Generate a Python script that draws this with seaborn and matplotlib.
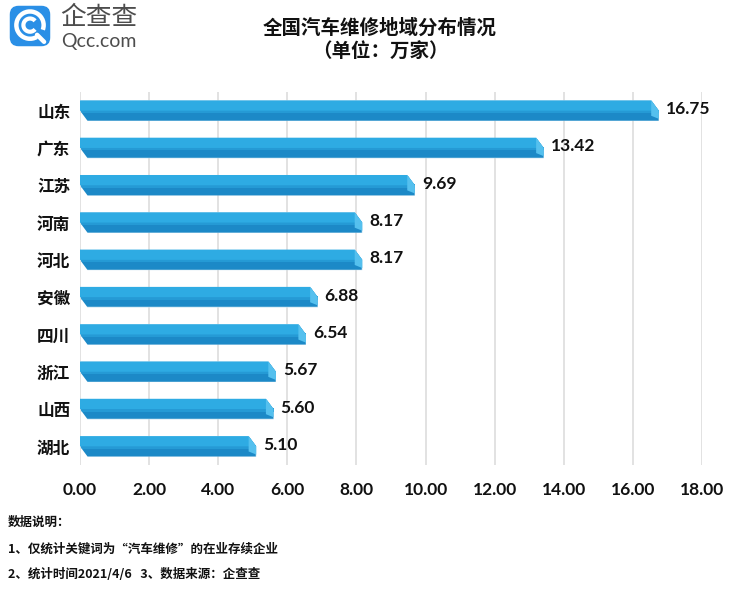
import pandas as pd
import matplotlib
matplotlib.use("Agg")
import matplotlib.pyplot as plt
import seaborn as sns
from matplotlib.patches import Polygon, FancyBboxPatch, Arc

provinces = ["山东", "广东", "江苏", "河南", "河北", "安徽", "四川", "浙江", "山西", "湖北"]
counts = [16.75, 13.42, 9.69, 8.17, 8.17, 6.88, 6.54, 5.67, 5.60, 5.10]
x_ticks = [0, 2, 4, 6, 8, 10, 12, 14, 16, 18]

title = "全国汽车维修地域分布情况"
subtitle = "（单位：万家）"
note_head = "数据说明："
note_1 = "1、仅统计关键词为“汽车维修”的在业存续企业"
note_2 = "2、统计时间2021/4/6   3、数据来源：企查查"
logo_cn = "企查查"
logo_en = "Qcc.com"

LIGHT = "#2EABE3"
MID = "#259AD5"
DARK = "#1C89C7"
CAP = "#55C0EE"
CJK = ["Noto Sans CJK SC", "DejaVu Sans"]
NUM = ["Lato", "DejaVu Sans"]


def draw_bars(ax, df):
    sns.barplot(data=df, y="province", x="count", orient="h", color=DARK,
                saturation=1, width=0.55, ax=ax)
    d = 0.22
    for patch, v in zip(ax.patches, df["count"]):
        x0, w = patch.get_x(), patch.get_width()
        top, h = patch.get_y(), patch.get_height()
        x1, mid, bot = x0 + w, top + h / 2, top + h
        shape = Polygon([(x0, top), (x1 - d, top), (x1, mid), (x1, bot),
                         (x0 + d, bot), (x0, mid)], transform=ax.transData)
        patch.set_clip_path(shape)
        # soft transition band under the top face
        ax.add_patch(Polygon([(x0, mid - h * 0.05), (x1, mid - h * 0.05),
                              (x1, mid + h * 0.12), (x0 + d * 0.25, mid + h * 0.12)],
                             closed=True, fc=MID, ec="none", zorder=3))
        ax.add_patch(Polygon([(x0, top), (x1 - d, top), (x1, mid), (x0, mid)],
                             closed=True, fc=LIGHT, ec="none", zorder=3))
        ax.add_patch(Polygon([(x1 - d, top), (x1, mid), (x1, bot - h * 0.1),
                              (x1 - d, bot - h * 0.25)],
                             closed=True, fc=CAP, ec="none", zorder=3))
        ax.text(x1 + 0.2, mid - 0.04, f"{v:.2f}", ha="left", va="center",
                fontsize=12.5, fontweight="bold", family=NUM, color="#111111")


def draw_logo(fig):
    lax = fig.add_axes([8 / 752, 1 - 48 / 593, 44 / 752, 44 / 593])
    lax.set_xlim(0, 1)
    lax.set_ylim(0, 1)
    lax.axis("off")
    lax.add_patch(FancyBboxPatch((0.04, 0.04), 0.92, 0.92,
                                 boxstyle="round,pad=0,rounding_size=0.2",
                                 fc="#2A8FE6", ec="none"))
    lax.add_patch(Arc((0.5, 0.52), 0.62, 0.62, theta1=-20, theta2=300,
                      color="white", lw=3.2))
    lax.add_patch(Arc((0.5, 0.52), 0.3, 0.3, theta1=40, theta2=320,
                      color="white", lw=3.0))
    lax.plot([0.66, 0.82], [0.3, 0.14], color="white", lw=3.2,
             solid_capstyle="round")
    fig.text(60 / 752, 1 - 18 / 593, logo_cn, ha="left", va="center",
             fontsize=18.5, family=CJK, color="#4d4d4d")
    fig.text(61 / 752, 1 - 42 / 593, logo_en, ha="left", va="center",
             fontsize=14, family=NUM, color="#4d4d4d")


def main():
    sns.set_theme(style="whitegrid")
    plt.rcParams["font.family"] = CJK

    df = pd.DataFrame({"province": provinces, "count": counts})

    fig = plt.figure(figsize=(7.52, 5.93), dpi=100)
    ax = fig.add_axes([80 / 752, 1 - 465 / 593, 622 / 752, 373 / 593])
    draw_bars(ax, df)

    ax.set_xlim(0, 18)
    ax.set_ylim(len(provinces) - 0.5, -0.5)
    ax.set_xticks(x_ticks)
    ax.set_xticklabels([f"{t:.2f}" for t in x_ticks], fontsize=12.5,
                       fontweight="bold", family=NUM, color="#111111")
    ax.set_yticks(range(len(provinces)))
    ax.set_yticklabels(provinces, fontsize=12, fontweight="bold",
                       family=CJK, color="#111111")
    ax.tick_params(axis="x", length=0, pad=12)
    ax.tick_params(axis="y", length=0, pad=7)
    ax.grid(axis="x", color="#dddddd", lw=1.2)
    ax.grid(axis="y", visible=False)
    ax.set_axisbelow(True)
    ax.set_xlabel("")
    ax.set_ylabel("")
    for s in ax.spines.values():
        s.set_visible(False)

    fig.text(380 / 752, 1 - 28 / 593, title, ha="center", va="center",
             fontsize=14, fontweight="bold", family=CJK, color="#111111")
    fig.text(380 / 752, 1 - 52 / 593, subtitle, ha="center", va="center",
             fontsize=14, fontweight="bold", family=CJK, color="#111111")

    draw_logo(fig)

    fig.text(8 / 752, 1 - 522 / 593, note_head, ha="left", va="center",
             fontsize=9, fontweight="bold", family=CJK, color="#111111")
    fig.text(8 / 752, 1 - 549 / 593, note_1, ha="left", va="center",
             fontsize=9, fontweight="bold", family=CJK, color="#111111")
    fig.text(8 / 752, 1 - 574 / 593, note_2, ha="left", va="center",
             fontsize=9, fontweight="bold", family=CJK, color="#111111")

    fig.savefig("out.png", dpi=100, facecolor="white")
    plt.close(fig)


if __name__ == "__main__":
    main()
